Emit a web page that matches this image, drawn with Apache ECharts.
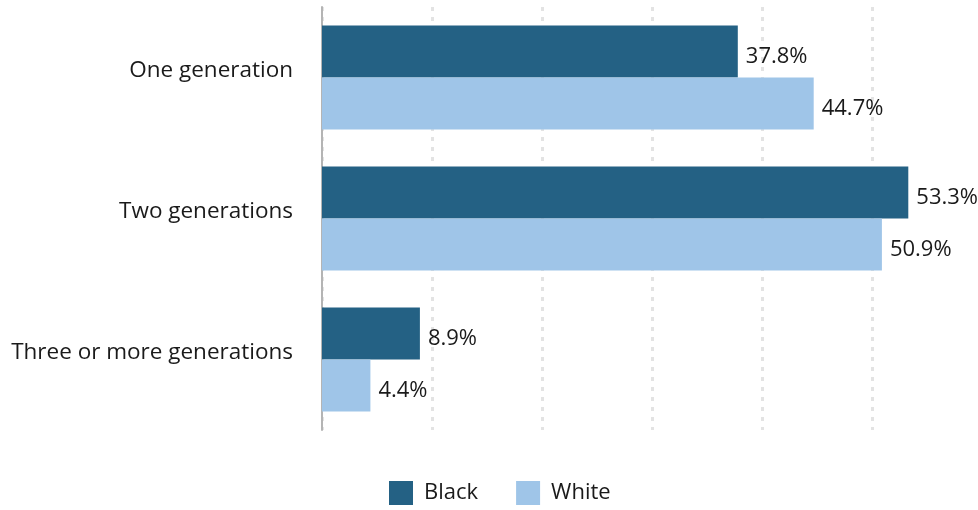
<!DOCTYPE html>
<html>
<head>
<meta charset="utf-8">
<script src="https://cdn.jsdelivr.net/npm/echarts@6/dist/echarts.min.js"></script>
<style>
  html, body { margin: 0; padding: 0; background: #ffffff; }
  #chart { width: 978px; height: 510px; }
</style>
</head>
<body>
<div id="chart"></div>
<script>
// Households by number of generations, share (%)
const categories = ['One generation', 'Two generations', 'Three or more generations'];
const blackValues = [37.8, 53.3, 8.9];
const whiteValues = [44.7, 50.9, 4.4];
const seriesNames = ['Black', 'White'];

const FONT = '"Open Sans", Lato, sans-serif';
const TEXT = '#1a1a1a';

// plot area runs from x=322 to the right edge at 11 px per percentage point
const PLOT_LEFT = 322;
const PLOT_WIDTH = 656;
const AXIS_MAX = PLOT_WIDTH / 11;

const chart = echarts.init(document.getElementById('chart'), null, { renderer: 'canvas' });

const labelStyle = {
  show: true,
  position: 'right',
  distance: 8,
  offset: [0, 5],
  formatter: p => p.value.toFixed(1) + '%',
  color: TEXT,
  fontFamily: FONT,
  fontSize: 22
};

chart.setOption({
  animation: false,
  backgroundColor: '#ffffff',
  grid: { left: PLOT_LEFT, width: PLOT_WIDTH, top: 7, height: 423, containLabel: false },
  legend: {
    bottom: 0,
    left: 389,
    padding: [0, 0, 5, 0],
    itemWidth: 24,
    itemHeight: 24,
    itemGap: 38,
    icon: 'rect',
    textStyle: { color: TEXT, fontFamily: FONT, fontSize: 22, padding: [0, 0, 0, 6] },
    data: seriesNames
  },
  xAxis: {
    type: 'value',
    min: 0,
    max: AXIS_MAX,
    interval: 10,
    axisLine: { show: false },
    axisTick: { show: false },
    axisLabel: { show: false },
    splitLine: {
      show: true,
      showMaxLine: false,
      lineStyle: { color: '#e3e3e3', width: 3, type: [4, 6] }
    }
  },
  yAxis: {
    type: 'category',
    inverse: true,
    data: categories,
    axisLine: { show: true, lineStyle: { color: '#b4b4b4', width: 2 } },
    axisTick: { show: false },
    axisLabel: {
      color: TEXT, fontFamily: FONT, fontSize: 22.5, margin: 29,
      verticalAlign: 'bottom',
      lineHeight: 13
    }
  },
  series: [
    {
      name: seriesNames[0],
      type: 'bar',
      data: blackValues,
      barWidth: 52,
      barGap: '0%',
      itemStyle: { color: '#246184' },
      label: labelStyle
    },
    {
      name: seriesNames[1],
      type: 'bar',
      data: whiteValues,
      barWidth: 52,
      barGap: '0%',
      itemStyle: { color: '#9fc5e8' },
      label: labelStyle
    }
  ]
});
</script>
</body>
</html>
